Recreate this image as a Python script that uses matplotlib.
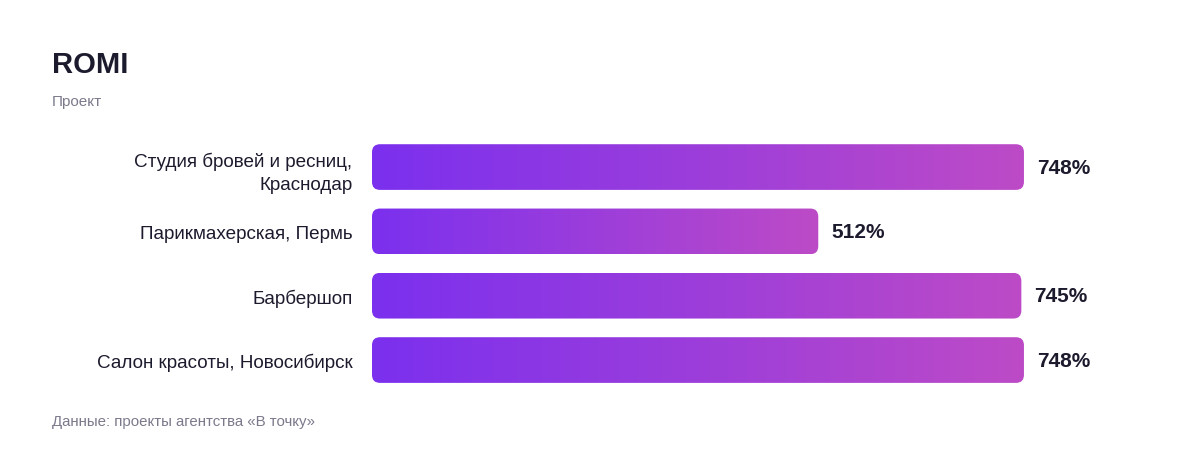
import matplotlib.pyplot as plt
import numpy as np
from matplotlib.colors import LinearSegmentedColormap
from matplotlib.patches import FancyBboxPatch

plt.rcParams['font.family'] = ['Liberation Sans', 'DejaVu Sans']

# данные
projects = ['Студия бровей и ресниц,\nКраснодар', 'Парикмахерская, Пермь',
            'Барбершоп', 'Салон красоты, Новосибирск']
romi = [748, 512, 745, 748]

dark = '#1c1b2e'
gray = '#7a7a8c'
grad = LinearSegmentedColormap.from_list('grad', ['#7b30ee', '#bd4bc7'])

fig = plt.figure(figsize=(12, 4.56), dpi=100)
ax = fig.add_axes([0.31, 0.1377, 0.5433, 0.5643])

y = np.arange(len(projects))
bar_h = 0.71
bars = ax.barh(y, romi, height=bar_h, color='none')
ax.set_xlim(0, max(romi))
ax.set_ylim(len(projects) - 0.5, -0.5)

# скругление в пикселях -> в единицах данных
p0 = ax.transData.transform((0, 0))
p1 = ax.transData.transform((1, 1))
px_x = abs(p1[0] - p0[0])
px_y = abs(p1[1] - p0[1])
r_px = 8

for b in bars:
    x0, y0, w, h = b.get_x(), b.get_y(), b.get_width(), b.get_height()
    patch = FancyBboxPatch((x0, y0), w, h,
                           boxstyle=f'round,pad=0,rounding_size={r_px / px_x}',
                           mutation_aspect=px_x / px_y,
                           facecolor='none', edgecolor='none')
    ax.add_patch(patch)
    im = ax.imshow(np.linspace(0, 1, 256).reshape(1, -1), cmap=grad,
                   extent=[x0, x0 + w, y0 + h, y0], aspect='auto', zorder=2)
    im.set_clip_path(patch)
    ax.annotate(f'{int(w)}%', (x0 + w, y0 + h / 2), xytext=(13, 0),
                textcoords='offset pixels', va='center', ha='left',
                fontsize=15, fontweight='bold', color=dark)

ax.set_xlim(0, max(romi))
ax.set_ylim(len(projects) - 0.5, -0.5)

ax.set_yticks(y, projects, fontsize=13.6, color=dark, linespacing=1.45)
ax.tick_params(axis='y', length=0, pad=14)
ax.set_xticks([])
for s in ax.spines.values():
    s.set_visible(False)

fig.text(52 / 1200, 1 - 65 / 456, 'ROMI', fontsize=21, fontweight='bold',
         color=dark, va='center', ha='left')
fig.text(52 / 1200, 1 - 102 / 456, 'Проект', fontsize=11, color=gray,
         va='center', ha='left')
fig.text(52 / 1200, 1 - 422 / 456, 'Данные: проекты агентства «В точку»',
         fontsize=10.8, color=gray, va='center', ha='left')

fig.savefig('out.png', dpi=100, facecolor='white')
